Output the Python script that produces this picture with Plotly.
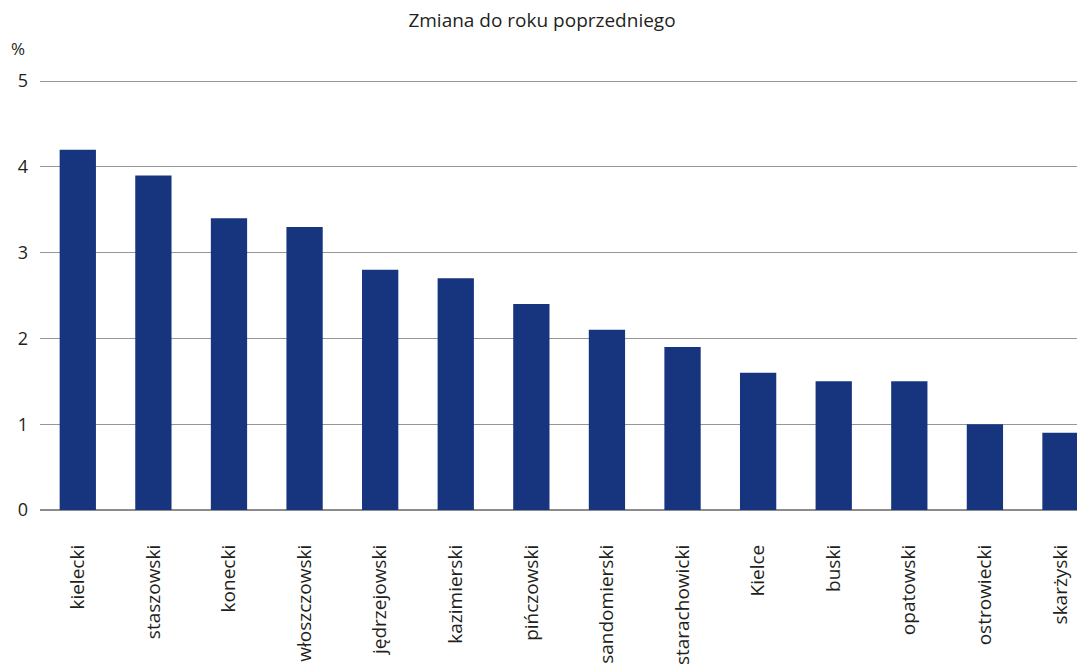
import plotly.graph_objects as go

categories = ["kielecki", "staszowski", "konecki", "włoszczowski", "jędrzejowski",
              "kazimierski", "pińczowski", "sandomierski", "starachowicki", "Kielce",
              "buski", "opatowski", "ostrowiecki", "skarżyski"]
values = [4.2, 3.9, 3.4, 3.3, 2.8, 2.7, 2.4, 2.1, 1.9, 1.6, 1.5, 1.5, 1.0, 0.9]
y_ticks = [0, 1, 2, 3, 4, 5]

FONT = "Open Sans"
TXT = "#231f20"

W, H = 1085, 669
ML, MT, MB, MR = 32, 72, 167, 0
PW = W - ML - MR
PH = H - MT - MB

fig = go.Figure(go.Bar(x=categories, y=values, marker_color="#17347f",
                       marker_line_width=0, width=0.48))

fig.update_layout(
    width=W, height=H,
    margin=dict(l=ML, r=MR, t=MT, b=MB),
    paper_bgcolor="white", plot_bgcolor="white",
    font=dict(family=FONT, color=TXT, size=18),
    showlegend=False,
    title=dict(text="Zmiana do roku poprzedniego", x=(542 - 8 - ML) / PW, xref="paper",
               xanchor="center", y=1 - 12 / H, yanchor="middle",
               font=dict(size=19, family=FONT, color=TXT)),
    annotations=[dict(text="%", xref="paper", yref="paper", x=(18 - 8 - ML) / PW,
                      y=1 + (72 - 40) / PH, xanchor="center", yanchor="middle", showarrow=False,
                      font=dict(size=17, family=FONT, color=TXT))],
)
fig.update_xaxes(type="category", range=[-0.5, 13.43], tickangle=-90,
                 showgrid=False, showline=False, ticks="", ticklabelstandoff=30,
                 tickfont=dict(size=19, family=FONT, color=TXT))
fig.update_yaxes(range=[0, 5.012], tickvals=y_ticks, showgrid=True, gridcolor="#969696",
                 gridwidth=1, zeroline=True, zerolinecolor="#8c8c8c", zerolinewidth=2,
                 ticks="", ticklabelstandoff=11, showline=False, layer="above traces",
                 tickfont=dict(size=18, family=FONT, color=TXT))

fig.write_html("out.html")
